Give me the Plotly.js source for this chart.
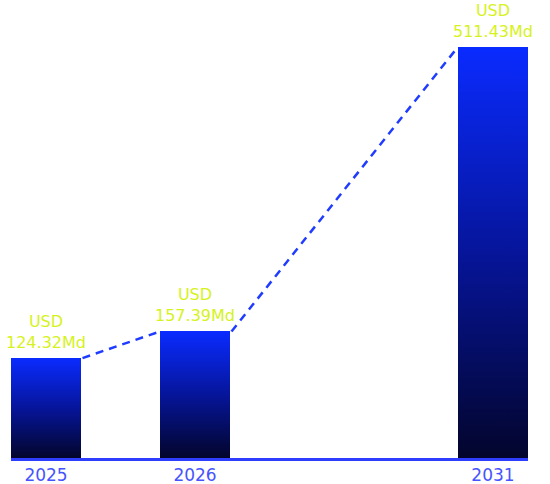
<!DOCTYPE html>
<html>
<head>
<meta charset="utf-8">
<script src="https://cdn.plot.ly/plotly-3.0.1.min.js"></script>
<style>
  html, body { margin: 0; padding: 0; background: #fff; }
  #chart { width: 550px; height: 484px; }
</style>
</head>
<body>
<div id="chart"></div>
<script>
// market size per year (USD, Md)
var years = ['2025', '2026', '2031'];
var values = [124.32, 157.39, 511.43];
var unit = 'USD';
var valueLabels = ['124.32Md', '157.39Md', '511.43Md'];

// an empty slot between 2026 and 2031 so the jump reads as a longer span
var slots = ['2025', '2026', 'gap', '2031'];
var barW = 0.47;

var labelFont = { family: 'DejaVu Sans', size: 16, color: '#d6f21c' };

var bars = {
    type: 'bar',
    x: years,
    y: values,
    width: barW,
    marker: { color: '#0a2bff', line: { width: 0 } },
    hoverinfo: 'skip'
};

// dashed connectors from the top right corner of each bar to the top left of the next
var shapes = [];
for (var i = 0; i < years.length - 1; i++) {
    shapes.push({
        type: 'line',
        xref: 'x', yref: 'y',
        x0: slots.indexOf(years[i]) + barW / 2 + 0.01,
        y0: values[i],
        x1: slots.indexOf(years[i + 1]) - barW / 2,
        y1: values[i + 1],
        line: { color: '#1f3cff', width: 2.5, dash: '8px,6px' },
        layer: 'above'
    });
}

// two line label above each bar (category index, year strings look like numbers)
var annotations = years.map(function (yr, i) {
    return {
        x: slots.indexOf(yr), y: values[i], xref: 'x', yref: 'y',
        text: unit + '<br>' + valueLabels[i], showarrow: false,
        yanchor: 'bottom', yshift: 4, font: labelFont
    };
});

var layout = {
    width: 550,
    height: 484,
    margin: { l: 11, r: 22, t: 40, b: 26 },
    paper_bgcolor: '#ffffff',
    plot_bgcolor: '#ffffff',
    showlegend: false,
    bargap: 0,
    xaxis: {
        type: 'category',
        categoryorder: 'array',
        categoryarray: slots,
        tickmode: 'array',
        tickvals: years,
        ticktext: years,
        range: [-barW / 2, slots.length - 1 + barW / 2],
        showgrid: false,
        zeroline: false,
        showline: true,
        linecolor: '#2f3dff',
        linewidth: 3,
        ticks: '',
        ticklabelstandoff: 0,
        tickfont: { family: 'DejaVu Sans', size: 17, color: '#4654ff' },
        fixedrange: true
    },
    yaxis: {
        range: [0, 520],
        visible: false,
        showgrid: false,
        zeroline: false,
        fixedrange: true
    },
    shapes: shapes,
    annotations: annotations
};

Plotly.newPlot('chart', [bars], layout, { displayModeBar: false, staticPlot: true }).then(function (gd) {
    // plotly bars have no gradient fill, so add one to the svg defs
    var svg = gd.querySelector('.main-svg');
    var ns = 'http://www.w3.org/2000/svg';
    var defs = svg.querySelector('defs');
    var grad = document.createElementNS(ns, 'linearGradient');
    grad.setAttribute('id', 'barGrad');
    grad.setAttribute('x1', '0');
    grad.setAttribute('y1', '0');
    grad.setAttribute('x2', '0');
    grad.setAttribute('y2', '1');
    [['0%', '#0a2bff'], ['50%', '#06159a'], ['100%', '#03052c']].forEach(function (s) {
        var stop = document.createElementNS(ns, 'stop');
        stop.setAttribute('offset', s[0]);
        stop.setAttribute('stop-color', s[1]);
        grad.appendChild(stop);
    });
    defs.appendChild(grad);
    gd.querySelectorAll('.trace.bars .point path').forEach(function (p) {
        p.style.fill = 'url(#barGrad)';
    });
});
</script>
</body>
</html>
